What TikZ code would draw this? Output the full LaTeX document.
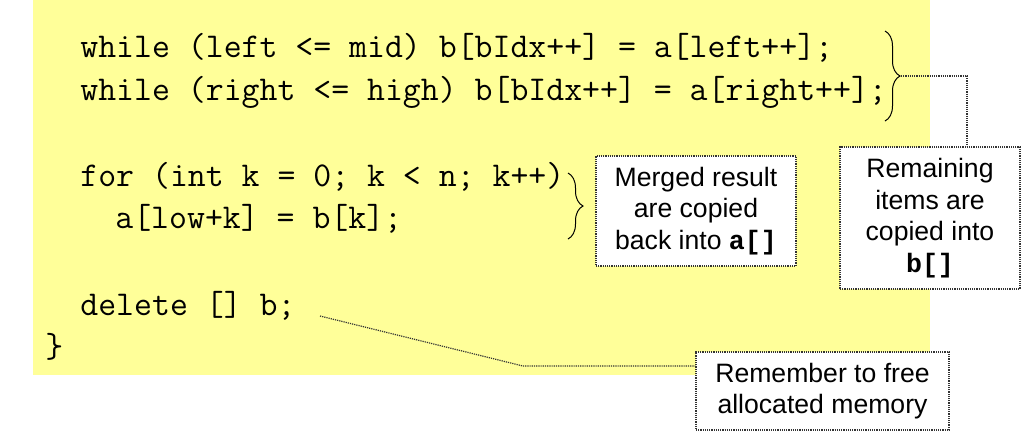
\documentclass[tikz,border=0pt]{standalone}
\usepackage{fontspec}
\usepackage{tikz}
\usetikzlibrary{calc}
\usetikzlibrary{decorations.pathreplacing}
\newfontfamily\boldcode{Liberation Mono}
\newfontfamily\notefont{Liberation Sans}
\definecolor{codebg}{HTML}{FFFF99}
\definecolor{dotgray}{HTML}{333333}
\tikzset{
    codeline/.style={anchor=base west,inner sep=0pt,font=\ttfamily\fontsize{17.4}{20}\selectfont},
    notebox/.style={draw=dotgray,fill=white,line width=0.6pt,dash pattern=on 0.6pt off 0.5pt,align=center,inner sep=0pt,font=\notefont\fontsize{13.3}{15.8}\selectfont},
    curly/.style={decorate,line width=0.5pt,decoration={brace,amplitude=7.5pt}},
    link/.style={draw=dotgray,line width=0.6pt,dash pattern=on 0.6pt off 0.5pt}
}

\begin{document}
\begin{tikzpicture}[x=0.5pt,y=-0.5pt]
\useasboundingbox (0,0) rectangle (1030,441);
\fill[codebg] (33,0) rectangle (930,375);
% code
\node[codeline] (w1) at (80,57) {while (left <= mid) b[bIdx++] = a[left++];};
\node[codeline] (w2) at (80,100) {while (right <= high) b[bIdx++] = a[right++];};
\node[codeline] (forl) at (80,186) {for (int k = 0; k < n; k++)};
\node[codeline] (copyl) at (115,228) {a[low+k] = b[k];};
\node[codeline] (del) at (80,315) {delete [] b;};
\node[codeline] (close) at (45,357) {\}};
% braces
\draw[curly] (885,31) -- (885,121);
\draw[curly] (568,173) -- (568,239);
\coordinate (tip1) at (901,76);
\coordinate (bend1) at (967,76);
% notes
\node[notebox,minimum width=100pt,minimum height=55pt] (merged) at (696,211)
    {Merged result\\are copied\\back into {\boldcode\bfseries a[]}};
\node[notebox,minimum width=90pt,minimum height=71pt] (remain) at (930,218)
    {Remaining\\items are\\copied into\\{\boldcode\bfseries b[]}};
\node[notebox,minimum width=126.5pt,minimum height=39pt] (remember) at (822.5,391)
    {Remember to free\\allocated memory};
% connectors
\draw[link] (tip1) -- (bend1) -- (bend1 |- remain.north);
\coordinate (start3) at (320,316);
\coordinate (bend3) at (523,366);
\draw[link] (start3) -- (bend3) -- (bend3 -| remember.west);
\end{tikzpicture}
\end{document}
